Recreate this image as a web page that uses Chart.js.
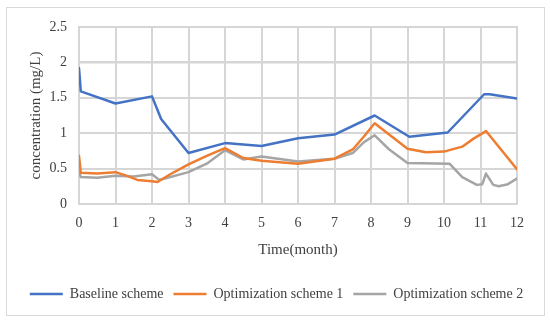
<!DOCTYPE html>
<html>
<head>
<meta charset="utf-8">
<script src="https://cdn.jsdelivr.net/npm/chart.js@4.4.1/dist/chart.umd.min.js"></script>
<style>
  html, body { margin: 0; padding: 0; background: #fff; }
  #wrap { position: relative; width: 550px; height: 322px; }
  #frame { position: absolute; left: 6px; top: 7px; width: 537px; height: 307px; border: 1px solid #d9d9d9; }
  canvas { position: absolute; left: 0; top: 0; }
</style>
</head>
<body>
<div id="wrap">
  <div id="frame"></div>
  <canvas id="myChart" width="550" height="322"></canvas>
</div>
<script>
// time in months, concentration in mg/L
var baselineX = [0, 0.05, 1, 2, 2.25, 3, 4, 5, 6, 7, 8.1, 9.05, 10.1, 11.1, 11.25, 12];
var baselineY = [1.92, 1.59, 1.42, 1.52, 1.2, 0.72, 0.86, 0.82, 0.93, 0.98, 1.25, 0.95, 1.01, 1.55, 1.55, 1.49];

var scheme1X = [0, 0.05, 0.5, 1, 1.3, 1.6, 2, 2.15, 2.5, 3, 3.5, 4, 4.5, 5, 6, 7, 7.5, 7.8, 8.1, 9, 9.5, 10, 10.5, 10.8, 11.15, 12];
var scheme1Y = [0.68, 0.44, 0.43, 0.45, 0.4, 0.34, 0.32, 0.31, 0.42, 0.56, 0.68, 0.79, 0.65, 0.61, 0.57, 0.64, 0.77, 0.95, 1.14, 0.78, 0.73, 0.74, 0.81, 0.92, 1.03, 0.49];

var scheme2X = [0, 0.05, 0.5, 1, 1.5, 2, 2.2, 3, 3.5, 4, 4.5, 5, 6, 7, 7.5, 7.8, 8.1, 8.5, 9, 10.15, 10.5, 10.9, 11.05, 11.15, 11.35, 11.5, 11.75, 12];
var scheme2Y = [0.46, 0.38, 0.37, 0.4, 0.39, 0.42, 0.34, 0.45, 0.57, 0.76, 0.63, 0.67, 0.6, 0.64, 0.72, 0.87, 0.97, 0.77, 0.58, 0.57, 0.38, 0.27, 0.28, 0.43, 0.27, 0.25, 0.28, 0.36];

var yTickLabels = ['0', '0.5', '1', '1.5', '2', '2.5'];
var xTickLabels = ['0', '1', '2', '3', '4', '5', '6', '7', '8', '9', '10', '11', '12'];

function toPoints(xs, ys) {
  var pts = [];
  for (var i = 0; i < xs.length; i++) {
    pts.push({ x: xs[i], y: ys[i] });
  }
  return pts;
}

var serif = '"Liberation Serif", "Times New Roman", serif';
var textColor = '#404040';
var gridColor = '#d6d6d6';

// legend is centred on the whole frame, not only the left part
var shiftLegend = {
  id: 'shiftLegend',
  afterLayout: function (chart) {
    if (chart.legend) {
      chart.legend.left += 18;
      chart.legend.right += 18;
    }
  }
};

// light grid under the lines, snapped to whole pixels
var plotGrid = {
  id: 'plotGrid',
  beforeDatasetsDraw: function (chart) {
    var c = chart.ctx, xs = chart.scales.x, ys = chart.scales.y;
    var area = chart.chartArea;
    var top = Math.round(area.top), bottom = Math.round(area.bottom);
    var left = Math.round(area.left), right = Math.round(area.right);
    c.save();
    c.fillStyle = gridColor;
    for (var i = 0; i < xTickLabels.length; i++) {
      var px = Math.round(xs.getPixelForValue(parseFloat(xTickLabels[i])));
      c.fillRect(px - 1, top - 1, 2, bottom - top + 1);
    }
    for (var j = 0; j < yTickLabels.length; j++) {
      var py = Math.round(ys.getPixelForValue(parseFloat(yTickLabels[j])));
      c.fillRect(left - 1, py - 1, right - left + 1, 2);
    }
    c.restore();
  }
};

var ctx = document.getElementById('myChart').getContext('2d');
var chart = new Chart(ctx, {
  type: 'line',
  data: {
    datasets: [{
      label: 'Baseline scheme',
      data: toPoints(baselineX, baselineY),
      borderColor: '#4472C4',
      backgroundColor: '#4472C4',
      borderWidth: 2.5
    }, {
      label: 'Optimization scheme 1',
      data: toPoints(scheme1X, scheme1Y),
      borderColor: '#ED7D31',
      backgroundColor: '#ED7D31',
      borderWidth: 2.5
    }, {
      label: 'Optimization scheme 2',
      data: toPoints(scheme2X, scheme2Y),
      borderColor: '#A5A5A5',
      backgroundColor: '#A5A5A5',
      borderWidth: 2.5
    }]
  },
  plugins: [shiftLegend, plotGrid],
  options: {
    responsive: false,
    animation: false,
    events: [],
    elements: {
      point: { radius: 0 },
      line: { tension: 0, borderJoinStyle: 'round', borderCapStyle: 'round' }
    },
    layout: { padding: { left: 0, right: 33, top: 27, bottom: 11 } },
    plugins: {
      tooltip: { enabled: false },
      legend: {
        position: 'bottom',
        labels: {
          usePointStyle: true,
          pointStyle: 'line',
          pointStyleWidth: 33,
          padding: 10,
          color: textColor,
          font: { family: serif, size: 14 }
        }
      }
    },
    scales: {
      x: {
        type: 'linear',
        min: 0,
        max: 12,
        afterFit: function (scale) { scale.height = 73; },
        ticks: {
          stepSize: 1,
          padding: 11,
          color: textColor,
          font: { family: serif, size: 14 },
          callback: function (v) { return xTickLabels[v]; }
        },
        grid: { color: gridColor, drawOnChartArea: false, drawTicks: false },
        border: { color: '#bfbfbf', width: 1.5 },
        title: {
          display: true,
          text: 'Time(month)',
          color: textColor,
          font: { family: serif, size: 15 },
          padding: { top: 0, bottom: 18 }
        }
      },
      y: {
        min: 0,
        max: 2.5,
        afterFit: function (scale) { scale.width = 79; },
        ticks: {
          stepSize: 0.5,
          padding: 12,
          color: textColor,
          font: { family: serif, size: 14 },
          callback: function (v) { return yTickLabels[Math.round(v * 2)]; }
        },
        grid: { color: gridColor, lineWidth: 1.5, drawTicks: false },
        border: { color: '#bfbfbf', width: 1.5 },
        title: {
          display: true,
          text: 'concentration (mg/L)',
          color: textColor,
          font: { family: serif, size: 15 },
          padding: { top: 27, bottom: 0 }
        }
      }
    }
  }
});
</script>
</body>
</html>
